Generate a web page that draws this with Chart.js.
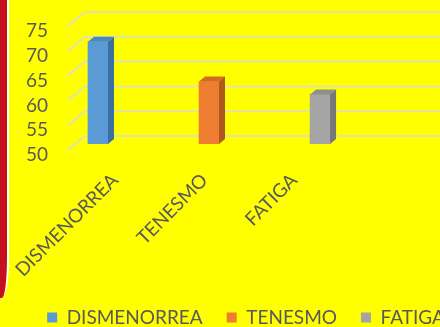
<!DOCTYPE html>
<html>
<head>
<meta charset="utf-8">
<script src="https://cdn.jsdelivr.net/npm/chart.js@4.4.1/dist/chart.umd.min.js"></script>
<style>
  html, body { margin: 0; padding: 0; background: #ffff00; }
  #wrap { position: relative; width: 440px; height: 327px; overflow: hidden; }
  #chart { position: absolute; left: 0; top: 0; }
  /* slide border on the left edge */
  #edge {
    position: absolute; left: 0; top: 0; width: 7px; height: 298px;
    background: #c4101c; border-right: 2px solid #fff;
    border-bottom-right-radius: 7px 40px;
  }
</style>
</head>
<body>
<div id="wrap">
  <canvas id="chart" width="440" height="327"></canvas>
  <div id="edge"></div>
</div>
<script>
const categories = ['DISMENORREA', 'TENESMO', 'FATIGA'];
const values = [70.6, 62.6, 60.0];
const yMin = 50;
const yMax = 75;
const yStep = 5;

const frontColors = ['#5b9bd5', '#ed7d31', '#a5a5a5'];
const topColors = ['#4a87c2', '#d06a24', '#8f8f8f'];
const sideColors = ['#3a6f9f', '#b0571c', '#777777'];
const textColor = '#595959';
const gridColor = 'rgba(217,217,217,0.8)';
const font = { family: 'Lato', size: 19 };

// fake 3D: back wall gridlines + bar caps and sides
const threeD = {
  id: 'threeD',
  beforeDatasetsDraw(chart) {
    const { ctx, chartArea } = chart;
    const y = chart.scales.y;
    ctx.save();
    ctx.strokeStyle = gridColor;
    ctx.lineWidth = 2;
    y.ticks.forEach(t => {
      const py = y.getPixelForValue(t.value);
      ctx.beginPath();
      ctx.moveTo(chartArea.left, py + 6);
      ctx.lineTo(chartArea.left + 17, py - 8);
      ctx.lineTo(chart.width, py - 8);
      ctx.stroke();
    });
    ctx.restore();
  },
  afterDatasetsDraw(chart) {
    const { ctx } = chart;
    const dx = 6, dy = 5;
    ctx.save();
    chart.data.datasets.forEach((ds, i) => {
      chart.getDatasetMeta(i).data.forEach(bar => {
        const { x, y, base, width } = bar.getProps(['x', 'y', 'base', 'width'], true);
        const l = x - width / 2, r = x + width / 2;
        ctx.fillStyle = topColors[i];
        ctx.beginPath();
        ctx.moveTo(l, y);
        ctx.lineTo(r, y);
        ctx.lineTo(r + dx, y - dy);
        ctx.lineTo(l + dx, y - dy);
        ctx.closePath();
        ctx.fill();
        ctx.fillStyle = sideColors[i];
        ctx.beginPath();
        ctx.moveTo(r, y);
        ctx.lineTo(r + dx, y - dy);
        ctx.lineTo(r + dx, base - dy);
        ctx.lineTo(r, base);
        ctx.closePath();
        ctx.fill();
      });
    });
    ctx.restore();
  }
};

new Chart(document.getElementById('chart'), {
  type: 'bar',
  data: {
    datasets: categories.map((name, i) => ({
      label: name,
      data: [{ x: i, y: values[i] }],
      backgroundColor: frontColors[i],
      base: yMin,
      barThickness: 20,
      grouped: false
    }))
  },
  options: {
    responsive: false,
    animation: false,
    layout: { padding: { top: 20, left: 0, right: -52, bottom: -10 } },
    plugins: {
      tooltip: { enabled: false },
      legend: {
        position: 'bottom',
        labels: { color: textColor, font, boxWidth: 10, boxHeight: 10, padding: 24 }
      }
    },
    scales: {
      x: {
        type: 'linear',
        display: false,
        offset: false,
        min: -0.27,
        max: 3.08
      },
      xl: {
        type: 'linear',
        position: 'bottom',
        offset: false,
        min: -0.525,
        max: 3.63,
        grid: { display: false, drawTicks: false, offset: false },
        border: { display: false },
        afterFit: s => { s.height = 140; s.paddingLeft = 0; s.paddingRight = 0; },
        ticks: {
          stepSize: 1,
          includeBounds: false,
          autoSkip: false,
          minRotation: 45,
          maxRotation: 45,
          padding: 25,
          color: textColor,
          font,
          callback: v => (Number.isInteger(v) && categories[v]) ? categories[v] : ''
        }
      },
      y: {
        min: yMin,
        max: yMax,
        grid: { display: false, drawTicks: false },
        border: { display: false },
        afterFit: s => { s.width = 68; s.paddingTop = 0; s.paddingBottom = 0; },
        ticks: { stepSize: yStep, autoSkip: false, padding: 20, labelOffset: 11, color: textColor, font }
      }
    }
  },
  plugins: [threeD]
});
</script>
</body>
</html>
